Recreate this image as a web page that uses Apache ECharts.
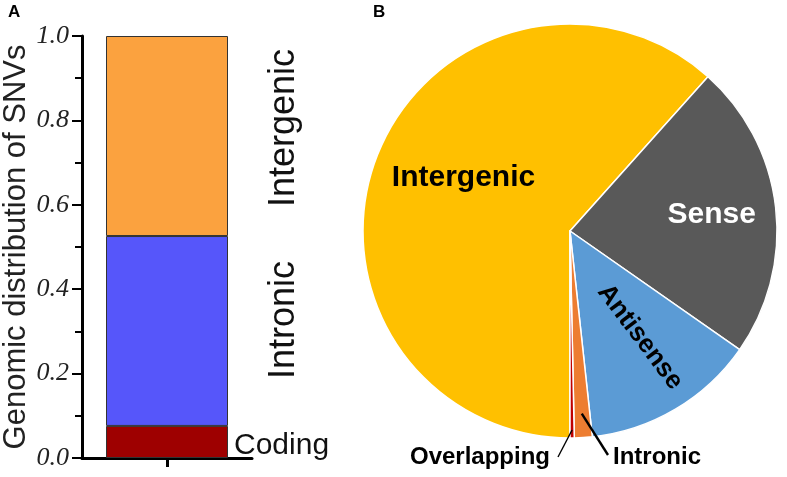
<!DOCTYPE html>
<html><head><meta charset="utf-8">
<script src="https://cdn.jsdelivr.net/npm/echarts@6/dist/echarts.min.js"></script>
<style>html,body{margin:0;padding:0;background:#fff}#c{width:787px;height:477px}</style>
</head><body><div id="c"></div>
<script>
// ---- Panel A data (stacked bar) ----
const barCategories = [''];
const barSeriesNames = ['Coding', 'Intronic', 'Intergenic'];
const codingValues = [0.076];
const intronicValues = [0.45];
const intergenicValues = [0.474];
const yAxisTitle = 'Genomic distribution of SNVs';

// ---- Panel B data (pie, percent) ----
const pieNames = ['Intergenic', 'Sense', 'Antisense', 'Intronic', 'Overlapping'];
const pieValues = [61.6, 23.1, 13.57, 1.39, 0.33];

const barColors = ['#9E0000', '#5656FA', '#FBA23F'];
const pieColors = ['#FFC000', '#595959', '#5B9BD5', '#ED7D31', '#C00000'];
const CX = 570, CY = 231, R = 207, START = -90;

const chart = echarts.init(document.getElementById('c'), null, {renderer: 'canvas'});

const barSeriesData = [codingValues, intronicValues, intergenicValues];
const barLabelCfg = [
  {show: true, position: 'right', distance: 6, offset: [0, 4], formatter: 'Coding', fontSize: 30,
   fontFamily: 'Liberation Sans', color: '#111'},
  {show: true, position: ['100%', '50%'], offset: [11, 56], rotate: 90, align: 'center',
   verticalAlign: 'middle', formatter: 'Intronic', fontSize: 36, fontFamily: 'Liberation Sans', color: '#111'},
  {show: true, position: ['100%', '50%'], offset: [8, 56], rotate: 90, align: 'center',
   verticalAlign: 'middle', formatter: 'Intergenic', fontSize: 36, fontFamily: 'Liberation Sans', color: '#111'}
];

const barSeries = barSeriesNames.map((n, i) => ({
  name: n, type: 'bar', stack: 'all', data: barSeriesData[i],
  barWidth: 122, xAxisIndex: 0, yAxisIndex: 0,
  itemStyle: {color: barColors[i], borderColor: '#333', borderWidth: 1},
  label: barLabelCfg[i], silent: true
}));

const pieLabelStyle = {
  Intergenic: {position: 'inside', fontSize: 30, color: '#000'},
  Sense: {position: 'inside', fontSize: 30, color: '#fff'},
  Antisense: {position: 'inside', fontSize: 26, color: '#000', rotate: -53},
  Intronic: {position: 'outside', fontSize: 24, color: '#000'},
  Overlapping: {position: 'outside', fontSize: 24, color: '#000'}
};
const pieLabelShift = {
  Intergenic: [-7, -15], Sense: [36, -4], Antisense: [21, -4]
};
// outside labels: anchor (relative to pie centre), leader line start depth and end (relative to centre)
const outsideLabelPos = {
  Overlapping: {x: -20, y: 226, align: 'right', depth: 8, end: [-12, 226]},
  Intronic: {x: 43, y: 226, align: 'left', depth: 24, end: [38, 224]}
};

const pieData = pieNames.map((n, i) => ({
  name: n, value: pieValues[i],
  itemStyle: {color: pieColors[i]},
  label: Object.assign({show: true, fontWeight: 'bold', fontFamily: 'Liberation Sans', formatter: '{b}'}, pieLabelStyle[n]),
  labelLine: {show: false}
}));

// point at radius r on the mid angle of slice idx (derived from the data)
function midPoint(idx, r) {
  const total = pieValues.reduce((a, b) => a + b, 0);
  let before = 0;
  for (let k = 0; k < idx; k++) before += pieValues[k];
  const frac = (before + pieValues[idx] / 2) / total;
  const a = (START - frac * 360) * Math.PI / 180;
  return [CX + r * Math.cos(a), CY - r * Math.sin(a)];
}

const leaderLines = Object.keys(outsideLabelPos).map(n => {
  const cfg = outsideLabelPos[n];
  const s = midPoint(pieNames.indexOf(n), R - cfg.depth);
  return {
    type: 'line', silent: true, z: 100,
    shape: {x1: s[0], y1: s[1], x2: CX + cfg.end[0], y2: CY + cfg.end[1]},
    style: {stroke: '#000', lineWidth: n === 'Intronic' ? 2.4 : 1.4}
  };
});

const option = {
  animation: false,
  backgroundColor: '#fff',
  title: [
    {text: 'A', left: 8, top: 4, padding: 0, textStyle: {fontSize: 17, fontWeight: 'bold', fontFamily: 'Liberation Sans', color: '#000'}},
    {text: 'B', left: 373, top: 4, padding: 0, textStyle: {fontSize: 17, fontWeight: 'bold', fontFamily: 'Liberation Sans', color: '#000'}}
  ],
  graphic: leaderLines,
  grid: {left: 80, top: 36, width: 172, bottom: 19, containLabel: false},
  xAxis: {
    type: 'category', data: barCategories,
    axisLine: {lineStyle: {color: '#000', width: 3}},
    axisTick: {show: true, alignWithLabel: true, length: 9, lineStyle: {color: '#000', width: 3}},
    axisLabel: {show: false}
  },
  yAxis: {
    type: 'value', min: 0, max: 1, interval: 0.2,
    name: yAxisTitle, nameLocation: 'middle', nameGap: 50,
    nameTextStyle: {fontSize: 31, fontFamily: 'Liberation Sans', color: '#222'},
    axisLine: {show: true, lineStyle: {color: '#000', width: 3}},
    axisTick: {show: true, length: 10, lineStyle: {color: '#000', width: 2}},
    minorTick: {show: true, splitNumber: 2, length: 7, lineStyle: {color: '#000', width: 2}},
    splitLine: {show: false},
    axisLabel: {margin: 13, fontSize: 26, fontStyle: 'italic', fontFamily: 'Liberation Serif', color: '#222',
      formatter: v => v.toFixed(1)}
  },
  series: barSeries.concat([{
    type: 'pie', center: [CX, CY], radius: R, startAngle: START, clockwise: true,
    avoidLabelOverlap: false, silent: true,
    itemStyle: {borderColor: '#fff', borderWidth: 1.5},
    data: pieData,
    labelLayout: function (p) {
      const n = pieNames[p.dataIndex];
      if (pieLabelShift[n]) return {dx: pieLabelShift[n][0], dy: pieLabelShift[n][1]};
      const cfg = outsideLabelPos[n];
      if (cfg) return {x: CX + cfg.x, y: CY + cfg.y, align: cfg.align, verticalAlign: 'middle'};
    }
  }])
};
chart.setOption(option);
</script></body></html>
